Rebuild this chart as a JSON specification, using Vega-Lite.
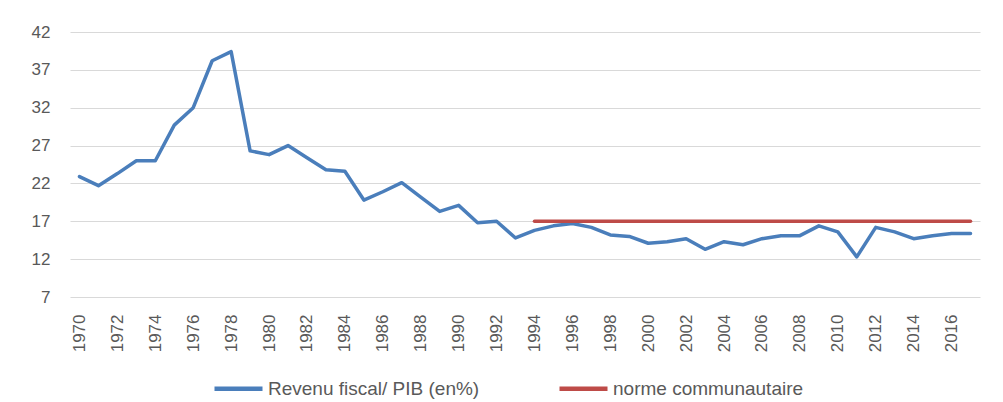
{
  "$schema": "https://vega.github.io/schema/vega-lite/v6.json",
  "width": 910,
  "height": 265,
  "autosize": {"type": "none"},
  "padding": {"left": 70, "top": 32, "right": 23, "bottom": 105},
  "background": "white",
  "config": {
    "view": {"stroke": null},
    "font": "Liberation Sans",
    "axis": {"labelColor": "#595959", "labelFontSize": 17, "ticks": false, "domain": false, "title": null}
  },
  "data": {
    "values": [
      {"year": 1970, "series": "Revenu fiscal/ PIB (en%)", "value": 22.9},
      {"year": 1971, "series": "Revenu fiscal/ PIB (en%)", "value": 21.7},
      {"year": 1972, "series": "Revenu fiscal/ PIB (en%)", "value": 23.3},
      {"year": 1973, "series": "Revenu fiscal/ PIB (en%)", "value": 25.0},
      {"year": 1974, "series": "Revenu fiscal/ PIB (en%)", "value": 25.0},
      {"year": 1975, "series": "Revenu fiscal/ PIB (en%)", "value": 29.7},
      {"year": 1976, "series": "Revenu fiscal/ PIB (en%)", "value": 32.0},
      {"year": 1977, "series": "Revenu fiscal/ PIB (en%)", "value": 38.2},
      {"year": 1978, "series": "Revenu fiscal/ PIB (en%)", "value": 39.4},
      {"year": 1979, "series": "Revenu fiscal/ PIB (en%)", "value": 26.3},
      {"year": 1980, "series": "Revenu fiscal/ PIB (en%)", "value": 25.8},
      {"year": 1981, "series": "Revenu fiscal/ PIB (en%)", "value": 27.0},
      {"year": 1982, "series": "Revenu fiscal/ PIB (en%)", "value": 25.4},
      {"year": 1983, "series": "Revenu fiscal/ PIB (en%)", "value": 23.8},
      {"year": 1984, "series": "Revenu fiscal/ PIB (en%)", "value": 23.6},
      {"year": 1985, "series": "Revenu fiscal/ PIB (en%)", "value": 19.8},
      {"year": 1986, "series": "Revenu fiscal/ PIB (en%)", "value": 20.9},
      {"year": 1987, "series": "Revenu fiscal/ PIB (en%)", "value": 22.1},
      {"year": 1988, "series": "Revenu fiscal/ PIB (en%)", "value": 20.2},
      {"year": 1989, "series": "Revenu fiscal/ PIB (en%)", "value": 18.3},
      {"year": 1990, "series": "Revenu fiscal/ PIB (en%)", "value": 19.1},
      {"year": 1991, "series": "Revenu fiscal/ PIB (en%)", "value": 16.8},
      {"year": 1992, "series": "Revenu fiscal/ PIB (en%)", "value": 17.0},
      {"year": 1993, "series": "Revenu fiscal/ PIB (en%)", "value": 14.8},
      {"year": 1994, "series": "Revenu fiscal/ PIB (en%)", "value": 15.8},
      {"year": 1995, "series": "Revenu fiscal/ PIB (en%)", "value": 16.4},
      {"year": 1996, "series": "Revenu fiscal/ PIB (en%)", "value": 16.7},
      {"year": 1997, "series": "Revenu fiscal/ PIB (en%)", "value": 16.2},
      {"year": 1998, "series": "Revenu fiscal/ PIB (en%)", "value": 15.2},
      {"year": 1999, "series": "Revenu fiscal/ PIB (en%)", "value": 15.0},
      {"year": 2000, "series": "Revenu fiscal/ PIB (en%)", "value": 14.1},
      {"year": 2001, "series": "Revenu fiscal/ PIB (en%)", "value": 14.3},
      {"year": 2002, "series": "Revenu fiscal/ PIB (en%)", "value": 14.7},
      {"year": 2003, "series": "Revenu fiscal/ PIB (en%)", "value": 13.3},
      {"year": 2004, "series": "Revenu fiscal/ PIB (en%)", "value": 14.3},
      {"year": 2005, "series": "Revenu fiscal/ PIB (en%)", "value": 13.9},
      {"year": 2006, "series": "Revenu fiscal/ PIB (en%)", "value": 14.7},
      {"year": 2007, "series": "Revenu fiscal/ PIB (en%)", "value": 15.1},
      {"year": 2008, "series": "Revenu fiscal/ PIB (en%)", "value": 15.1},
      {"year": 2009, "series": "Revenu fiscal/ PIB (en%)", "value": 16.4},
      {"year": 2010, "series": "Revenu fiscal/ PIB (en%)", "value": 15.6},
      {"year": 2011, "series": "Revenu fiscal/ PIB (en%)", "value": 12.3},
      {"year": 2012, "series": "Revenu fiscal/ PIB (en%)", "value": 16.2},
      {"year": 2013, "series": "Revenu fiscal/ PIB (en%)", "value": 15.6},
      {"year": 2014, "series": "Revenu fiscal/ PIB (en%)", "value": 14.7},
      {"year": 2015, "series": "Revenu fiscal/ PIB (en%)", "value": 15.1},
      {"year": 2016, "series": "Revenu fiscal/ PIB (en%)", "value": 15.4},
      {"year": 2017, "series": "Revenu fiscal/ PIB (en%)", "value": 15.4},
      {"year": 1994, "series": "norme communautaire", "value": 17},
      {"year": 1995, "series": "norme communautaire", "value": 17},
      {"year": 1996, "series": "norme communautaire", "value": 17},
      {"year": 1997, "series": "norme communautaire", "value": 17},
      {"year": 1998, "series": "norme communautaire", "value": 17},
      {"year": 1999, "series": "norme communautaire", "value": 17},
      {"year": 2000, "series": "norme communautaire", "value": 17},
      {"year": 2001, "series": "norme communautaire", "value": 17},
      {"year": 2002, "series": "norme communautaire", "value": 17},
      {"year": 2003, "series": "norme communautaire", "value": 17},
      {"year": 2004, "series": "norme communautaire", "value": 17},
      {"year": 2005, "series": "norme communautaire", "value": 17},
      {"year": 2006, "series": "norme communautaire", "value": 17},
      {"year": 2007, "series": "norme communautaire", "value": 17},
      {"year": 2008, "series": "norme communautaire", "value": 17},
      {"year": 2009, "series": "norme communautaire", "value": 17},
      {"year": 2010, "series": "norme communautaire", "value": 17},
      {"year": 2011, "series": "norme communautaire", "value": 17},
      {"year": 2012, "series": "norme communautaire", "value": 17},
      {"year": 2013, "series": "norme communautaire", "value": 17},
      {"year": 2014, "series": "norme communautaire", "value": 17},
      {"year": 2015, "series": "norme communautaire", "value": 17},
      {"year": 2016, "series": "norme communautaire", "value": 17},
      {"year": 2017, "series": "norme communautaire", "value": 17}
    ]
  },
  "mark": {"type": "line", "strokeWidth": 3.5, "strokeCap": "round", "strokeJoin": "round"},
  "encoding": {
    "x": {
      "field": "year",
      "type": "quantitative",
      "scale": {"domain": [1969.5, 2017.5], "nice": false, "zero": false},
      "axis": {
        "values": [1970, 1972, 1974, 1976, 1978, 1980, 1982, 1984, 1986, 1988, 1990, 1992, 1994, 1996, 1998, 2000, 2002, 2004, 2006, 2008, 2010, 2012, 2014, 2016],
        "format": "d",
        "labelAngle": -90,
        "labelPadding": 17,
        "grid": false
      }
    },
    "y": {
      "field": "value",
      "type": "quantitative",
      "scale": {"domain": [7, 42], "nice": false, "zero": false},
      "axis": {
        "values": [7, 12, 17, 22, 27, 32, 37, 42],
        "labelPadding": 20,
        "grid": true,
        "gridColor": "#d9d9d9",
        "gridWidth": 1.2
      }
    },
    "color": {
      "field": "series",
      "type": "nominal",
      "scale": {"domain": ["Revenu fiscal/ PIB (en%)", "norme communautaire"], "range": ["#4a7ebb", "#be4b48"]},
      "legend": {
        "title": null,
        "orient": "none",
        "legendX": 142,
        "legendY": 330,
        "direction": "horizontal",
        "symbolType": "stroke",
        "symbolSize": 2304,
        "symbolStrokeWidth": 4.5,
        "labelFontSize": 19,
        "labelColor": "#595959",
        "labelOffset": 3,
        "labelLimit": 400,
        "columnPadding": 70,
        "padding": 0
      }
    }
  }
}
